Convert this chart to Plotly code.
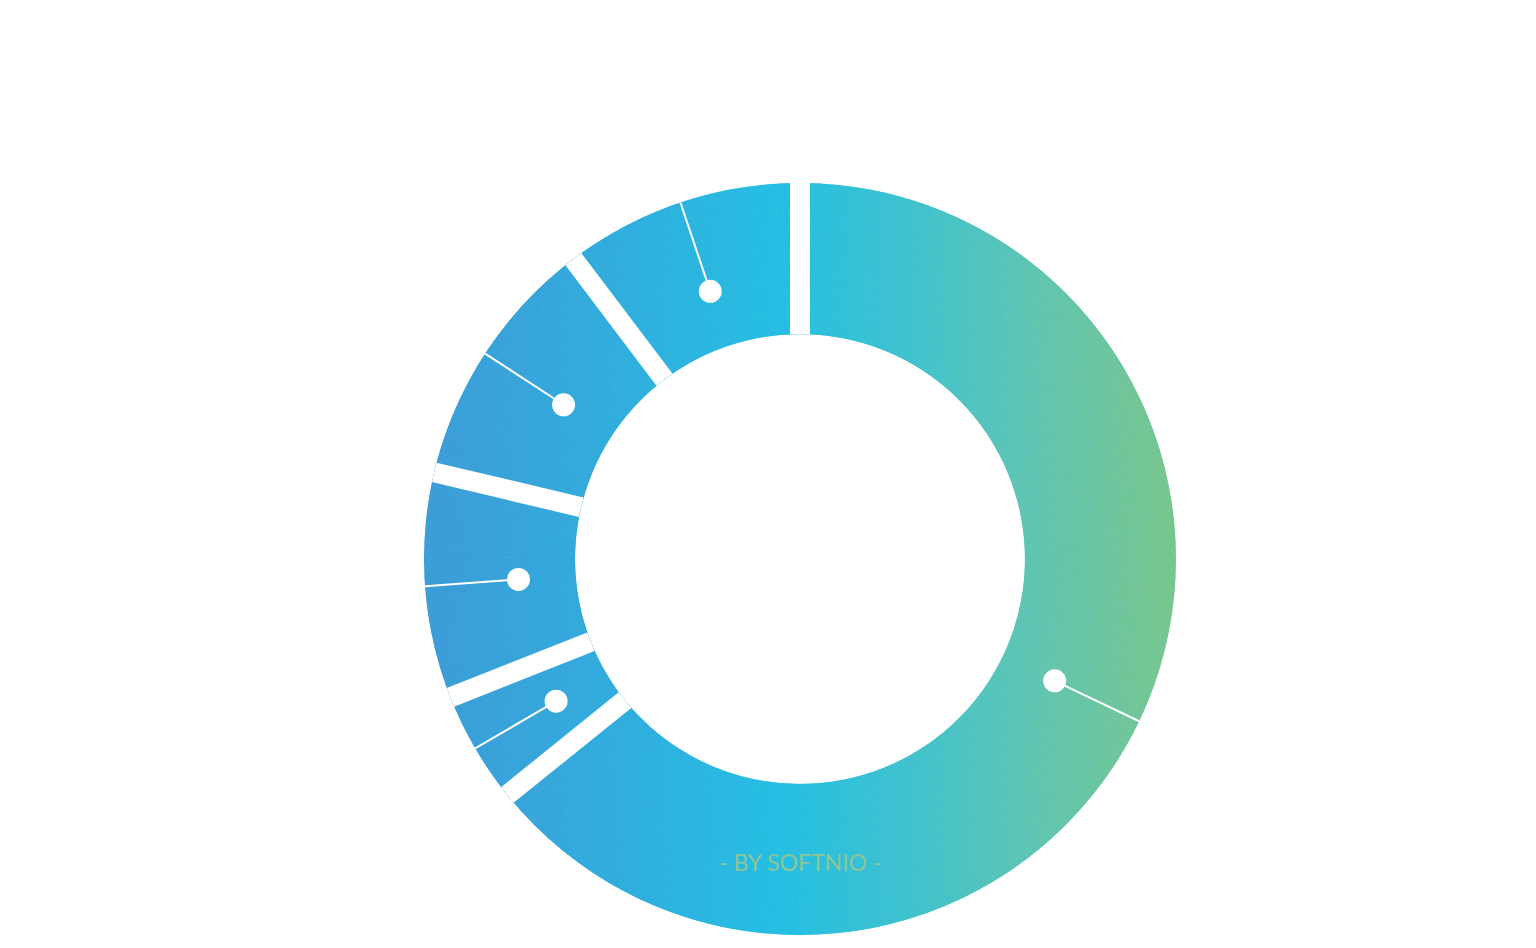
import math
import plotly.graph_objects as go

# ---- data ----
categories = ["Category 1", "Category 2", "Category 3", "Category 4", "Category 5"]
values = [64.2, 4.8, 9.7, 11.0, 10.3]

# ---- style ----
gradient = [
    [0.00, "#3d9cd7"],
    [0.20, "#33a9dc"],
    [0.48, "#25bfe3"],
    [0.65, "#40c2cd"],
    [0.80, "#5ec5b4"],
    [1.00, "#79c68d"],
]
HOLE = 0.598
GAP_PX = 20
ANG_STEP = 1.0
N_RAD = 10
LABEL_R = 0.38

total = sum(values)
bounds = [0.0]
for v in values:
    bounds.append(bounds[-1] + v / total * 360.0)

# gradient cells for each slice (colour by horizontal position)
cell_theta, cell_width, cell_base, cell_r, cell_c = [], [], [], [], []
for i in range(len(values)):
    a0, a1 = bounds[i], bounds[i + 1]
    n = max(1, int(math.ceil((a1 - a0) / ANG_STEP)))
    w = (a1 - a0) / n
    for k in range(n):
        th = a0 + (k + 0.5) * w
        for j in range(N_RAD):
            rr = HOLE + (1 - HOLE) * (j + 0.5) / N_RAD
            cell_theta.append(th)
            cell_width.append(w)
            cell_base.append(j / N_RAD)
            cell_r.append(1.0 / N_RAD)
            cell_c.append(rr * math.sin(math.radians(th)))

fig = go.Figure()
fig.add_trace(go.Barpolar(
    theta=cell_theta, width=cell_width, base=cell_base, r=cell_r,
    marker=dict(color=cell_c, colorscale=gradient, cmin=-1, cmax=1,
                line=dict(color=cell_c, colorscale=gradient, cmin=-1, cmax=1, width=0.8)),
    hoverinfo="skip", showlegend=False,
))

# white gaps between slices
gap_t, gap_r = [], []
for b in bounds[:-1]:
    gap_t += [b, b, None]
    gap_r += [0, 1, None]
fig.add_trace(go.Scatterpolar(
    theta=gap_t, r=gap_r, mode="lines",
    line=dict(color="white", width=GAP_PX), hoverinfo="skip", showlegend=False,
))

# label ticks and dots
mids = [(bounds[i] + bounds[i + 1]) / 2 for i in range(len(values))]
tick_t, tick_r = [], []
for m in mids:
    tick_t += [m, m, None]
    tick_r += [LABEL_R, 1, None]
fig.add_trace(go.Scatterpolar(
    theta=tick_t, r=tick_r, mode="lines",
    line=dict(color="white", width=2), hoverinfo="skip", showlegend=False,
))
fig.add_trace(go.Scatterpolar(
    theta=mids, r=[LABEL_R] * len(mids), mode="markers",
    marker=dict(color="white", size=23),
    text=categories, hoverinfo="text", showlegend=False,
))

fig.update_layout(
    width=1536, height=948,
    margin=dict(l=0, r=0, t=0, b=0),
    paper_bgcolor="white",
    polar=dict(
        domain=dict(x=[0.270833, 0.760417], y=[0.022152, 0.815401]),
        hole=HOLE,
        bgcolor="white",
        angularaxis=dict(rotation=90, direction="clockwise", visible=False),
        radialaxis=dict(range=[0, 1], visible=False),
    ),
    annotations=[dict(
        text="- BY SOFTNIO -", x=0.515625, y=0.0992, xref="paper", yref="paper",
        xanchor="center", yanchor="middle", showarrow=False,
        font=dict(family="Lato", size=23, color="#8cc598"),
    )],
)

fig.write_html("out.html")
